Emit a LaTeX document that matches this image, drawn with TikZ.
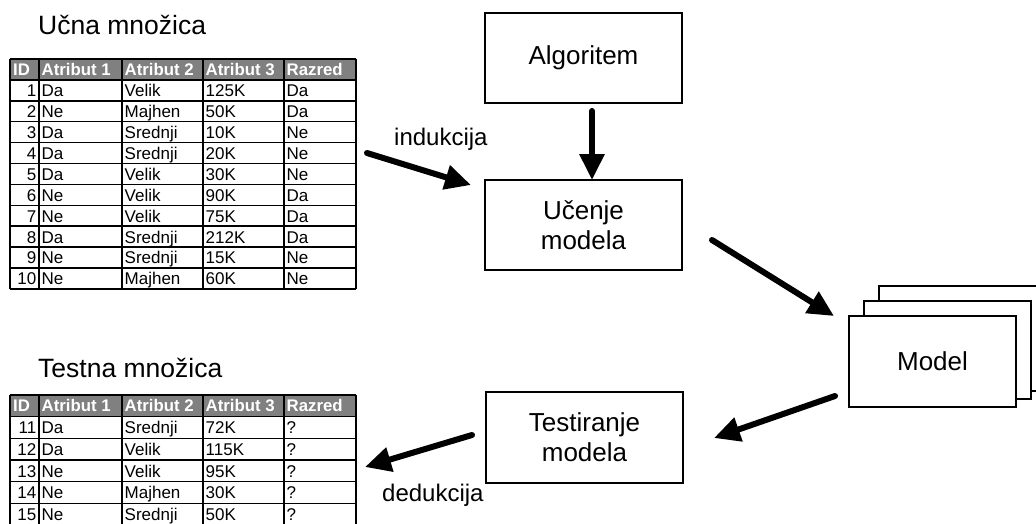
\documentclass[tikz,border=0pt]{standalone}
\usepackage{fontspec}
\setmainfont{Liberation Sans}
\usetikzlibrary{arrows.meta}

\tikzset{
  procbox/.style={draw, line width=1.4pt, fill=white, inner sep=0pt},
  boxtext/.style={font=\fontsize{26}{30}\selectfont, align=center},
  title/.style={anchor=base west, inner sep=0pt, font=\fontsize{26.5}{30}\selectfont},
  edgelabel/.style={anchor=base west, inner sep=0pt, font=\fontsize{24}{28}\selectfont},
  flow/.style={line width=6pt, line cap=round, -{Triangle[length=26pt,width=24pt]}},
  hline/.style={line width=1.5pt},
  vline/.style={line width=2.2pt},
  cell/.style={anchor=base west, inner sep=0pt, font=\fontsize{17}{18}\selectfont},
  idcell/.style={anchor=base east, inner sep=0pt, font=\fontsize{17}{18}\selectfont},
  headcell/.style={anchor=base west, inner sep=0pt, text=white, font=\bfseries\fontsize{16.8}{18}\selectfont},
}
\definecolor{hdrgray}{RGB}{128,128,128}

% column borders shared by both tables
\def\cA{10}\def\cB{39}\def\cC{122}\def\cD{203}\def\cE{284}\def\cF{356}

% header row and grid of one table: #1 name, #2 top, #3 row height, #4 number of rows
\newcommand\tablegrid[4]{%
  \fill[hdrgray] (\cA,#2) rectangle (\cF,#2+#3);
  \node[headcell] (#1-h-id) at (\cA+3,#2+16.5) {ID};
  \node[headcell] (#1-h-a) at (\cB+2.5,#2+16.5) {Atribut 1};
  \node[headcell] (#1-h-b) at (\cC+2.5,#2+16.5) {Atribut 2};
  \node[headcell] (#1-h-c) at (\cD+2.5,#2+16.5) {Atribut 3};
  \node[headcell] (#1-h-r) at (\cE+2.5,#2+16.5) {Razred};
  \foreach \i in {0,...,#4} {
    \draw[hline] (\cA,#2+\i*#3) -- (\cF,#2+\i*#3);
  }
  \foreach \x in {\cA,\cB,\cC,\cD,\cE,\cF} {
    \draw[vline] (\x,#2) -- (\x,#2+#4*#3);
  }
}

\begin{document}
\begin{tikzpicture}[x=1pt,y=-1pt]
\useasboundingbox (0,0) rectangle (1036,523);
\begin{scope}
\clip (0,0) rectangle (1036,523);

% training set
\node[title] (trainTitle) at (38,34) {Učna množica};
\def\topA{59}\def\rowA{20.9}
\foreach \id/\a/\b/\c/\r [count=\k] in {
  1/Da/Velik/125K/Da, 2/Ne/Majhen/50K/Da, 3/Da/Srednji/10K/Ne,
  4/Da/Srednji/20K/Ne, 5/Da/Velik/30K/Ne, 6/Ne/Velik/90K/Da,
  7/Ne/Velik/75K/Da, 8/Da/Srednji/212K/Da, 9/Ne/Srednji/15K/Ne,
  10/Ne/Majhen/60K/Ne} {
  \node[idcell] (train-\k-id) at (\cB-2.5,\topA+\k*\rowA+16.8) {\id};
  \node[cell] (train-\k-a) at (\cB+2.5,\topA+\k*\rowA+16.8) {\a};
  \node[cell] (train-\k-b) at (\cC+2.5,\topA+\k*\rowA+16.8) {\b};
  \node[cell] (train-\k-c) at (\cD+2.5,\topA+\k*\rowA+16.8) {\c};
  \node[cell] (train-\k-r) at (\cE+2.5,\topA+\k*\rowA+16.8) {\r};
}
\tablegrid{train}{\topA}{\rowA}{11}

% test set
\node[title] (testTitle) at (38,377) {Testna množica};
\def\topB{395}\def\rowB{21.67}
\foreach \id/\a/\b/\c/\r [count=\k] in {
  11/Da/Srednji/72K/?, 12/Da/Velik/115K/?, 13/Ne/Velik/95K/?,
  14/Ne/Majhen/30K/?, 15/Ne/Srednji/50K/?} {
  \node[idcell] (test-\k-id) at (\cB-2.5,\topB+\k*\rowB+17.2) {\id};
  \node[cell] (test-\k-a) at (\cB+2.5,\topB+\k*\rowB+17.2) {\a};
  \node[cell] (test-\k-b) at (\cC+2.5,\topB+\k*\rowB+17.2) {\b};
  \node[cell] (test-\k-c) at (\cD+2.5,\topB+\k*\rowB+17.2) {\c};
  \node[cell] (test-\k-r) at (\cE+2.5,\topB+\k*\rowB+17.2) {\r};
}
\tablegrid{test}{\topB}{\rowB}{6}

% process boxes
\node[procbox, boxtext, minimum width=197pt, minimum height=90pt] (alg) at (583.5,58) {Algoritem};
\node[procbox, boxtext, minimum width=197pt, minimum height=90pt] (learn) at (583.5,225) {Učenje\\modela};
\node[procbox, boxtext, minimum width=197pt, minimum height=91pt] (testing) at (584.5,437.5) {Testiranje\\modela};

% stack of models
\draw[procbox] (879,286) rectangle (1046,391);
\draw[procbox] (864,301) rectangle (1031,399);
\node[procbox, boxtext, minimum width=167pt, minimum height=91pt] (model) at (932.5,361.5) {Model};

% arrow end points
\coordinate (algOut) at (592,111);
\coordinate (learnIn) at (592,180);
\coordinate (trainOut) at (367,153);
\coordinate (indIn) at (471,185);
\coordinate (learnOut) at (712,240);
\coordinate (modelIn) at (834,316);
\coordinate (modelOut) at (835,396);
\coordinate (testIn) at (714,438);
\coordinate (testOut) at (472,435);
\coordinate (dedIn) at (365,467);

\draw[flow] (algOut) -- (learnIn);
\draw[flow] (trainOut) -- (indIn);
\draw[flow] (learnOut) -- (modelIn);
\draw[flow] (modelOut) -- (testIn);
\draw[flow] (testOut) -- (dedIn);

\node[edgelabel] (indLabel) at (394,145) {indukcija};
\node[edgelabel] (dedLabel) at (382,501) {dedukcija};
\end{scope}
\end{tikzpicture}
\end{document}
